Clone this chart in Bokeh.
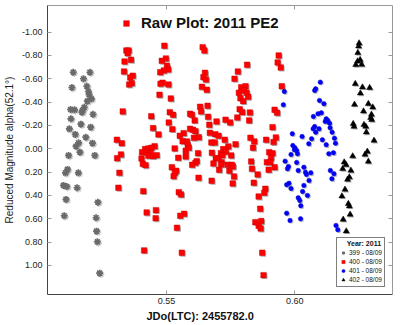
from bokeh.plotting import figure
from bokeh.models import (Range1d, LinearAxis, FixedTicker, NumeralTickFormatter,
                          Legend, LegendItem, Title)
from bokeh.embed import file_html
from bokeh.resources import INLINE

# ---------------- data ----------------
x399 = [0.5137, 0.5202, 0.5177, 0.5132, 0.5190, 0.5196, 0.5199, 0.5208, 0.5192, 0.5180,
        0.5173, 0.5127, 0.5142, 0.5171, 0.5214, 0.5128, 0.5167, 0.5205, 0.5122, 0.5145,
        0.5186, 0.5158, 0.5212, 0.5148, 0.5163, 0.5119, 0.5221, 0.5115, 0.5107, 0.5157,
        0.5099, 0.5112, 0.5152, 0.5109, 0.5233, 0.5102, 0.5226, 0.5228, 0.5231, 0.5240]
y399 = [-0.656, -0.656, -0.600, -0.525, -0.536, -0.491, -0.463, -0.428, -0.408, -0.356,
        -0.328, -0.337, -0.334, -0.314, -0.296, -0.257, -0.211, -0.185, -0.171, -0.123,
        -0.099, -0.051, -0.048, -0.022, 0.029, 0.057, 0.057, 0.177, 0.206, 0.206,
        0.314, 0.323, 0.334, 0.434, 0.458, 0.574, 0.591, 0.706, 0.797, 1.066]

x400 = [0.5492, 0.5344, 0.5353, 0.5349, 0.5337, 0.5362, 0.5498, 0.5482, 0.5502, 0.5507,
        0.5490, 0.5476, 0.5335, 0.5369, 0.5359, 0.5365, 0.5355, 0.5485, 0.5477, 0.5508,
        0.5473, 0.5517, 0.5330, 0.5513, 0.5526, 0.5441, 0.5509, 0.5448, 0.5523, 0.5469,
        0.5567, 0.5552, 0.5563, 0.5580, 0.5307, 0.5326, 0.5454, 0.5532, 0.5417, 0.5430,
        0.5442, 0.5405, 0.5423, 0.5438, 0.5575, 0.5323, 0.5430, 0.5449, 0.5462, 0.5308,
        0.5403, 0.5546, 0.5575, 0.5408, 0.5419, 0.5521, 0.5538, 0.5533, 0.5528, 0.5317,
        0.5313, 0.5410, 0.5548, 0.5557, 0.5459, 0.5423, 0.5458, 0.5569, 0.5554, 0.5541,
        0.5413, 0.5560, 0.5641, 0.5648, 0.5814, 0.5650, 0.5644, 0.5654, 0.5778, 0.5765,
        0.5638, 0.5657, 0.5791, 0.5808, 0.5802, 0.5782, 0.5812, 0.5818, 0.5788, 0.5799,
        0.5631, 0.5660, 0.5635, 0.5785, 0.5795, 0.5825, 0.5592, 0.5599, 0.5662, 0.5610,
        0.5695, 0.5730, 0.5748, 0.5776, 0.5822, 0.5592, 0.5603, 0.5613, 0.5667, 0.5669,
        0.5690, 0.5703, 0.5607, 0.5626, 0.5727, 0.5827, 0.5842, 0.5583, 0.5675, 0.5688,
        0.5769, 0.5587, 0.5741, 0.5721, 0.5731, 0.5712, 0.5623, 0.5677, 0.5752, 0.5692,
        0.5703, 0.5718, 0.5837, 0.5618, 0.5613, 0.5600, 0.5715, 0.5713, 0.5683, 0.5738,
        0.5754, 0.5759, 0.5705, 0.5745, 0.5830, 0.5833, 0.5763, 0.5625, 0.5676, 0.5758,
        0.5840, 0.5846, 0.5885, 0.5881, 0.5859, 0.5865, 0.5869, 0.5859, 0.5867, 0.5873,
        0.5878, 0.5855, 0.5898, 0.5921, 0.5937, 0.5933, 0.5945, 0.5949, 0.5921, 0.5931,
        0.5913, 0.5888, 0.5926, 0.5917, 0.5900, 0.5913, 0.5907, 0.5891, 0.5904]
y400 = [-0.883, -0.842, -0.842, -0.819, -0.748, -0.763, -0.774, -0.754, -0.711, -0.680,
        -0.671, -0.656, -0.662, -0.626, -0.611, -0.562, -0.551, -0.566, -0.557, -0.551,
        -0.463, -0.431, -0.320, -0.314, -0.291, -0.279, -0.225, -0.177, -0.168, -0.123,
        -0.134, -0.111, -0.065, -0.063, -0.077, -0.048, -0.022, -0.003, 0.003, -0.003,
        -0.009, 0.029, 0.032, 0.038, 0.017, 0.049, 0.060, 0.063, 0.055, 0.081,
        0.083, 0.077, 0.066, 0.129, 0.141, 0.158, 0.189, 0.206, 0.235, 0.206,
        0.334, 0.363, 0.372, 0.392, 0.526, 0.546, 0.595, 0.557, 0.574, 0.677,
        0.871, 0.891, -0.871, -0.842, -0.720, -0.651, -0.614, -0.594, -0.662, -0.600,
        -0.531, -0.506, -0.528, -0.536, -0.500, -0.480, -0.480, -0.446, -0.434, -0.408,
        -0.360, -0.368, -0.320, -0.339, -0.314, -0.311, -0.300, -0.291, -0.274, -0.243,
        -0.234, -0.249, -0.225, -0.268, -0.243, -0.171, -0.163, -0.151, -0.206, -0.137,
        -0.125, -0.111, -0.094, -0.099, -0.077, -0.094, -0.063, -0.028, -0.054, -0.054,
        -0.039, -0.009, -0.020, 0.003, 0.026, 0.038, 0.038, 0.034, 0.057, 0.081,
        0.081, 0.055, -0.009, 0.106, 0.120, 0.137, 0.115, 0.135, 0.126, 0.137,
        0.137, 0.152, 0.180, 0.189, 0.109, 0.171, 0.237, 0.249, 0.274, 0.297,
        0.291, 0.629, 0.343, 0.377, 0.409, 0.514, 0.620, 0.660, 0.683, 0.891,
        1.083, 0.220, 0.180, 0.158, -0.800, -0.740, -0.697, -0.536, -0.334, -0.308,
        -0.185, -0.077, -0.097, -0.057, 0.029, 0.038, 0.077, 0.115, 0.115]

x401 = [0.6099, 0.6081, 0.6077, 0.5959, 0.6096, 0.6113, 0.5955, 0.6103, 0.6090, 0.6072,
        0.6122, 0.6128, 0.6118, 0.6135, 0.6077, 0.6071, 0.6081, 0.6094, 0.6137, 0.5990,
        0.6028, 0.6065, 0.6107, 0.5992, 0.6000, 0.5998, 0.6007, 0.6054, 0.6010, 0.5985,
        0.6132, 0.5962, 0.6007, 0.5975, 0.5971, 0.6035, 0.6013, 0.6041, 0.6045, 0.6062,
        0.6138, 0.6055, 0.5977, 0.5968, 0.6035, 0.5985, 0.6030, 0.6049, 0.6013, 0.6019,
        0.6023, 0.6154, 0.6158, 0.6122, 0.6152, 0.6144, 0.5968, 0.5981, 0.6022, 0.6160,
        0.6167, 0.6145, 0.6150]
y401 = [-0.571, -0.514, -0.500, -0.491, -0.414, -0.386, -0.377, -0.308, -0.300, -0.277,
        -0.257, -0.243, -0.234, -0.219, -0.191, -0.171, -0.142, -0.171, -0.180, -0.129,
        -0.105, -0.086, -0.077, -0.028, -0.009, 0.009, 0.015, -0.043, 0.043, 0.049,
        0.043, 0.106, 0.117, 0.152, 0.171, 0.158, 0.186, 0.201, 0.220, 0.206,
        0.186, 0.272, 0.295, 0.308, 0.314, 0.340, 0.366, 0.400, 0.420, 0.443,
        0.488, -0.091, -0.048, -0.034, 0.214, 0.257, 0.552, 0.614, 0.600, 0.657,
        0.694, -0.142, 0.034]

x402 = [0.6250, 0.6248, 0.6245, 0.6254, 0.6244, 0.6260, 0.6237, 0.6235, 0.6263, 0.6291,
        0.6255, 0.6232, 0.6286, 0.6303, 0.6267, 0.6298, 0.6295, 0.6299, 0.6227, 0.6230,
        0.6269, 0.6276, 0.6278, 0.6308, 0.6282, 0.6273, 0.6225, 0.6286, 0.6192, 0.6199,
        0.6186, 0.6218, 0.6212, 0.6205, 0.6195, 0.6183, 0.6208, 0.6212, 0.6215, 0.6188,
        0.6200]
y402 = [-0.905, -0.879, -0.823, -0.763, -0.751, -0.722, -0.720, -0.557, -0.528, -0.523,
        -0.476, -0.380, -0.386, -0.356, -0.322, -0.294, -0.266, -0.249, -0.214, -0.191,
        -0.206, -0.191, -0.142, -0.071, 0.023, 0.049, 0.063, 0.109, 0.115, 0.137,
        0.171, 0.186, 0.243, 0.263, 0.349, 0.406, 0.471, 0.492, 0.563, 0.606,
        0.706]

x_ticks = [0.55, 0.60]
y_ticks = [-1.0, -0.8, -0.6, -0.4, -0.2, 0.0, 0.2, 0.4, 0.6, 0.8, 1.0]
series_labels = ["399 - 08/09", "400 - 08/09", "401 - 08/09", "402 - 08/09"]
title_text = "Raw Plot: 2011 PE2"
legend_title = "Year: 2011"
x_label = "JDo(LTC): 2455782.0"
y_label = "Reduced Magnitude alpha(52.1\u00b0)"

# ---------------- figure ----------------
XR = (0.5037, 0.6380)
YR = (1.249, -1.228)
FW, FH = 349, 289
FONT = "Liberation Sans"

p = figure(width=400, height=325, output_backend="svg", toolbar_location=None,
           x_range=Range1d(*XR), y_range=Range1d(*YR),
           min_border_left=43, min_border_right=8, min_border_top=5, min_border_bottom=31,
           background_fill_color="white", border_fill_color="white",
           outline_line_color=None)
p.grid.visible = False

# shadow ranges (about 1 px right / 1 px down)
sx = 1.2 * (XR[1] - XR[0]) / FW
sy = 1.2 * (YR[0] - YR[1]) / FH
p.extra_x_ranges = {"sh": Range1d(XR[0] - sx, XR[1] - sx)}
p.extra_y_ranges = {"sh": Range1d(YR[0] - sy, YR[1] - sy)}

def style_axis(ax, labels=True, color="#444444"):
    ax.axis_line_color = color
    ax.axis_line_width = 1
    ax.major_tick_in = 4
    ax.major_tick_out = 0
    ax.minor_tick_line_color = None
    ax.major_tick_line_color = "#999999"
    if labels:
        ax.major_label_text_font = FONT
        ax.major_label_text_font_size = "9px"
        ax.major_label_text_color = "#222222"
    else:
        ax.major_label_text_font_size = "1px"
        ax.major_label_text_color = None
        ax.major_label_text_alpha = 0
        ax.major_label_standoff = 0

xb = p.xaxis[0]
yl = p.yaxis[0]
for ax, tks in ((xb, x_ticks), (yl, y_ticks)):
    ax.ticker = FixedTicker(ticks=tks)
    ax.formatter = NumeralTickFormatter(format="0.00")
style_axis(xb)
style_axis(yl)
xb.major_label_standoff = 3
yl.major_label_standoff = 5
yl.axis_label = y_label
yl.axis_label_text_font = FONT
yl.axis_label_text_font_size = "10px"
yl.axis_label_text_font_style = "normal"
yl.axis_label_text_color = "#222222"
yl.axis_label_standoff = 4

xt = LinearAxis(ticker=FixedTicker(ticks=x_ticks))
yr = LinearAxis(ticker=FixedTicker(ticks=y_ticks))
style_axis(xt, labels=False, color="#999999")
style_axis(yr, labels=False, color="#999999")
p.add_layout(xt, "above")
p.add_layout(yr, "right")

p.add_layout(Title(text=x_label, align="left", offset=99, text_font=FONT,
                   text_font_size="11px", text_font_style="bold",
                   text_color="#111111", standoff=2), "below")

# ---------------- shadows ----------------
shadow = dict(x_range_name="sh", y_range_name="sh")
p.scatter(x399, y399, marker="asterisk", size=7, line_color="#c8c8c8", line_width=1.6, **shadow)
p.scatter(x400, y400, marker="square", size=5.5, fill_color="#b0b0b0", line_color=None, **shadow)
p.scatter(x401, y401, marker="circle", size=4.5, fill_color="#c0c0c0", line_color=None, **shadow)
p.scatter(x402, y402, marker="triangle", size=6, fill_color="#b0b0b0", line_color=None, **shadow)

# ---------------- series ----------------
r399 = p.scatter(x399, y399, marker="asterisk", size=7, line_color="#6a6a6a", line_width=1.7)
r400 = p.scatter(x400, y400, marker="square", size=5.5, fill_color="#ff0000",
                 line_color="#d00000", line_width=0.5)
r401 = p.scatter(x401, y401, marker="circle", size=4.5, fill_color="#0000ff",
                 line_color="#0000cc", line_width=0.5)
r402 = p.scatter(x402, y402, marker="triangle", size=6, fill_color="#000000",
                 line_color="#000000", line_width=0.5)

# ---------------- legends ----------------
leg_title = Legend(items=[LegendItem(label=title_text, renderers=[r400])],
                   location=(72, 263), border_line_color=None, background_fill_alpha=0,
                   padding=0, margin=0, glyph_width=14, glyph_height=14, label_height=14,
                   label_standoff=8, label_text_font=FONT, label_text_font_size="15px",
                   label_text_font_style="bold", label_text_color="#111111")
p.add_layout(leg_title)

leg = Legend(items=[LegendItem(label=series_labels[0], renderers=[r399]),
                    LegendItem(label=series_labels[1], renderers=[r400]),
                    LegendItem(label=series_labels[2], renderers=[r401]),
                    LegendItem(label=series_labels[3], renderers=[r402])],
             title="\u00a0\u00a0\u00a0\u00a0" + legend_title,
             title_text_font=FONT, title_text_font_size="7px", title_text_font_style="bold",
             title_text_color="#111111", title_standoff=1,
             location=(289, 7), border_line_color="#000000", border_line_width=1,
             background_fill_color="white", background_fill_alpha=1,
             padding=2, margin=0, spacing=0, glyph_width=8, glyph_height=9, label_height=8,
             label_standoff=2, label_text_font=FONT, label_text_font_size="6.5px",
             label_text_color="#111111")
p.add_layout(leg)

open("out.html", "w").write(file_html(p, INLINE))
